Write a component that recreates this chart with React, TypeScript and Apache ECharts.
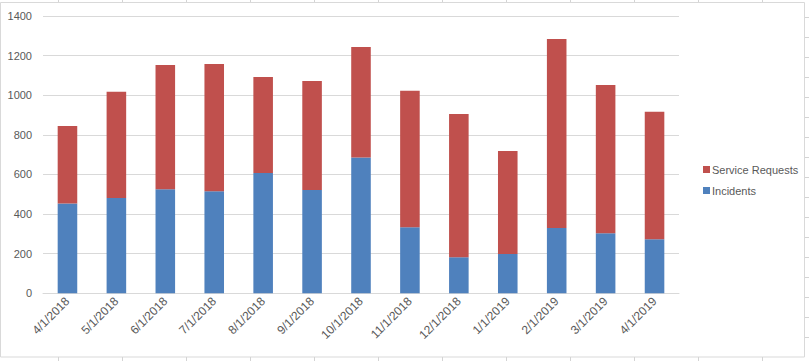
import React, { useEffect, useRef } from "react";
import * as echarts from "echarts";

const categories = [
  "4/1/2018", "5/1/2018", "6/1/2018", "7/1/2018", "8/1/2018", "9/1/2018",
  "10/1/2018", "11/1/2018", "12/1/2018", "1/1/2019", "2/1/2019", "3/1/2019", "4/1/2019",
];
const incidents = [454, 481, 525, 515, 607, 522, 685, 333, 182, 198, 330, 303, 273];
const serviceRequests = [391, 536, 628, 643, 485, 550, 559, 689, 723, 521, 954, 749, 643];
const yTicks = { min: 0, max: 1400, interval: 200 };

const colTicks = [58, 122, 186, 250, 314, 378, 442, 506, 570, 634, 698, 762];
const rowTicks = [17, 37, 57, 77, 97, 117, 137, 157, 177, 197, 217, 237, 257, 277, 297, 317, 337];

export default function App() {
  const ref = useRef<HTMLDivElement>(null);
  useEffect(() => {
    if (!ref.current) return;
    const chart = echarts.init(ref.current, null, { renderer: "svg" });
    const gridColor = "#d9d9d9";
    const sheetColor = "#d4d4d4";
    const graphics: any[] = [];
    colTicks.forEach((x) => {
      graphics.push({ type: "line", shape: { x1: x + 0.5, y1: 0, x2: x + 0.5, y2: 2 }, style: { stroke: sheetColor, lineWidth: 1 } });
      graphics.push({ type: "line", shape: { x1: x + 0.5, y1: 357, x2: x + 0.5, y2: 361 }, style: { stroke: sheetColor, lineWidth: 1 } });
    });
    rowTicks.forEach((y) => {
      graphics.push({ type: "line", shape: { x1: 805, y1: y + 0.5, x2: 809, y2: y + 0.5 }, style: { stroke: sheetColor, lineWidth: 1 } });
    });
    graphics.push({
      type: "rect",
      shape: { x: 0.5, y: 2.5, width: 804, height: 354.5 },
      style: { fill: "none", stroke: gridColor, lineWidth: 1 },
      z: -1,
    });
    chart.setOption({
      animation: false,
      backgroundColor: "#ffffff",
      textStyle: { fontFamily: "Liberation Sans", color: "#595959" },
      grid: { left: 43, right: 130, top: 16, bottom: 67.7, containLabel: false },
      legend: {
        orient: "vertical",
        left: 698,
        top: 159,
        itemWidth: 7,
        itemHeight: 7,
        itemGap: 10,
        icon: "rect",
        textStyle: { fontSize: 11, color: "#595959", fontFamily: "Liberation Sans", padding: [0, 0, 0, -3] },
        data: ["Service Requests", "Incidents"],
      },
      xAxis: {
        type: "category",
        data: categories,
        axisLine: { lineStyle: { color: gridColor } },
        axisTick: { show: false },
        axisLabel: { rotate: 45, fontSize: 12, color: "#595959", margin: 6, interval: 0 },
      },
      yAxis: {
        type: "value",
        min: yTicks.min,
        max: yTicks.max,
        interval: yTicks.interval,
        axisLine: { show: false },
        axisTick: { show: false },
        axisLabel: { fontSize: 11, color: "#595959", margin: 11, formatter: (v: number) => String(v) },
        splitLine: { lineStyle: { color: gridColor } },
      },
      series: [
        {
          name: "Incidents",
          type: "bar",
          stack: "total",
          data: incidents,
          barWidth: "40%",
          itemStyle: { color: "#4F81BD" },
        },
        {
          name: "Service Requests",
          type: "bar",
          stack: "total",
          data: serviceRequests,
          barWidth: "40%",
          itemStyle: { color: "#C0504D" },
        },
      ],
      graphic: graphics,
    });
    return () => chart.dispose();
  }, []);
  return (
    <div
      ref={ref}
      style={{ position: "fixed", left: 0, top: 0, width: 809, height: 361 }}
    />
  );
}
